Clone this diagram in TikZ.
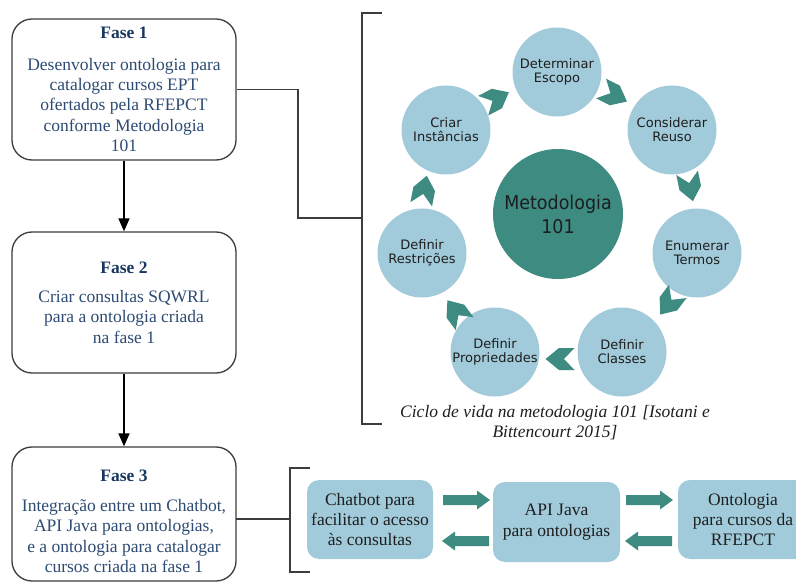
\documentclass[tikz,border=0pt]{standalone}
\usepackage{fontspec}
\setmainfont{Liberation Serif}
\newfontfamily\circfont{DejaVu Sans}
\newfontfamily\centfont[FakeStretch=0.92]{DejaVu Sans}
\usetikzlibrary{arrows.meta}
\definecolor{tealc}{RGB}{61,139,129}
\definecolor{lightb}{RGB}{161,203,218}
\definecolor{navyt}{RGB}{25,55,95}
\definecolor{navyb}{RGB}{45,75,115}
\definecolor{linec}{RGB}{60,60,60}
\definecolor{darkt}{RGB}{30,30,30}
\begin{document}
\begin{tikzpicture}[x=1pt,y=-1pt,
  fase/.style={draw=linec, line width=1.3pt, rounded corners=20pt, fill=white,
    minimum width=224pt, align=center, inner sep=0pt, text=navyb,
    font=\fontsize{17.5}{20.3}\selectfont},
  fasetext/.style={align=center, inner sep=0pt, text=navyb,
    font=\fontsize{17.5}{20.3}\selectfont},
  flow/.style={draw=black, line width=1.8pt, -{Triangle[width=11pt,length=13pt]}},
  conn/.style={draw=linec, line width=1.3pt},
  cyc/.style={circle, fill=lightb, minimum size=89pt, inner sep=0pt, align=center,
    text=darkt, font=\circfont\fontsize{13}{13.8}\selectfont},
  ctr/.style={circle, fill=tealc, minimum size=130pt, inner sep=0pt, align=center,
    text=darkt, font=\centfont\fontsize{19}{24}\selectfont},
  bbox/.style={fill=lightb, rounded corners=12pt, align=center, inner sep=0pt,
    text=darkt, font=\fontsize{17.5}{20.3}\selectfont},
  chevron/.pic={\fill[tealc] (14.5,0) -- (1,11) -- (-14.5,11) -- (-4,0) -- (-14.5,-11) -- (1,-11) -- cycle;},
  rarrow/.pic={\fill[tealc] (0,-5) -- (34,-5) -- (34,-9.5) -- (47,0) -- (34,9.5) -- (34,5) -- (0,5) -- cycle;}
]
\useasboundingbox (0,0) rectangle (796,583);
\clip (0,0) rectangle (796,583);

% Phase boxes
\node[fase, minimum height=141pt] (f1) at (124,89.5)
  {{\color{navyt}\bfseries Fase 1}\\[11pt]Desenvolver ontologia para\\catalogar cursos EPT\\ofertados pela RFEPCT\\conforme Metodologia\\101};
\node[fase, minimum height=141pt] (f2) at (124,302.5)
  {{\color{navyt}\bfseries Fase 2}\\[9pt]Criar consultas SQWRL\\para a ontologia criada\\na fase 1};
\node[fase, minimum height=134pt] (f3) at (124,514) {};
\node[fasetext] (t3) at (124,521)
  {{\color{navyt}\bfseries Fase 3}\\[10pt]Integração entre um Chatbot,\\API Java para ontologias,\\e a ontologia para catalogar\\cursos criada na fase 1};

\draw[flow] (f1) -- (f2);
\draw[flow] (f2) -- (f3);

% bracket 1 and connector
\coordinate (k1) at (298,218);
\coordinate (b1) at (362,218);
\coordinate (b1t) at (382,13);
\coordinate (b1b) at (382,424);
\draw[conn] (f1.east) -| (k1) -- (b1);
\draw[conn] (b1t) -- (362,13) -- (362,424) -- (b1b);

% bracket 2 and connector
\coordinate (c3) at (236,519);
\coordinate (b2) at (290,519);
\coordinate (b2t) at (310,468);
\coordinate (b2b) at (310,572);
\draw[conn] (c3) -- (b2);
\draw[conn] (b2t) -- (290,468) -- (290,572) -- (b2b);

% cycle
\node[ctr] (met) at (558,214) {Metodologia\\101};
\node[cyc] (det) at (557,72) {Determinar\\Escopo};
\node[cyc] (con) at (672,130) {Considerar\\Reuso};
\node[cyc] (enu) at (697,253) {Enumerar\\Termos};
\node[cyc] (cla) at (622,352) {Definir\\Classes};
\node[cyc] (pro) at (495,352) {Definir\\Propriedades};
\node[cyc] (res) at (422,253) {Definir\\Restrições};
\node[cyc] (cri) at (446,130) {Criar\\Instâncias};

\pic[rotate=27.6] at (496,99) {chevron};
\pic[rotate=-26.8] at (614,95) {chevron};
\pic[rotate=-78.5] at (690,187) {chevron};
\pic[rotate=-127.1] at (669,303) {chevron};
\pic[rotate=180] at (560,359) {chevron};
\pic[rotate=126.4] at (456,312) {chevron};
\pic[rotate=79] at (424,190) {chevron};

\node[align=center, text=darkt, font=\itshape\fontsize{17.5}{20}\selectfont] (cap) at (555,423)
  {Ciclo de vida na metodologia 101 [Isotani e\\Bittencourt 2015]};

% bottom row
\node[bbox, minimum width=126pt, minimum height=79pt] (chat) at (370,519.5)
  {Chatbot para\\facilitar o acesso\\às consultas};
\node[bbox, minimum width=127pt, minimum height=80pt] (api) at (556.5,522)
  {API Java\\para ontologias};
\node[bbox, minimum width=130pt, minimum height=79pt] (ont) at (743,519.5)
  {Ontologia\\para cursos da\\RFEPCT};

\pic at (443,500) {rarrow};
\pic[xscale=-1] at (489,541) {rarrow};
\pic at (626,500) {rarrow};
\pic[xscale=-1] at (672,541) {rarrow};
\end{tikzpicture}
\end{document}
